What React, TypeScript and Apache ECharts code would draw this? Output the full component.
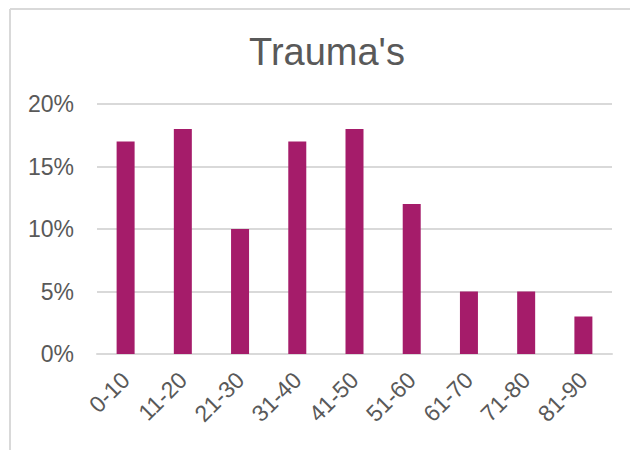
import React, { useEffect, useRef } from "react";
import * as echarts from "echarts";

const categories = ["0-10", "11-20", "21-30", "31-40", "41-50", "51-60", "61-70", "71-80", "81-90"];
const values = [17, 18, 10, 17, 18, 12, 5, 5, 3];
const yTicks = [0, 5, 10, 15, 20];
const titleText = "Trauma's";

export default function App() {
  const ref = useRef<HTMLDivElement>(null);
  useEffect(() => {
    if (!ref.current) return;
    const chart = echarts.init(ref.current, null, { renderer: "svg" });
    chart.setOption({
      animation: false,
      backgroundColor: "#ffffff",
      title: {
        text: titleText,
        left: 322,
        textAlign: "center",
        top: 28,
        textStyle: { fontFamily: "Liberation Sans, Arial", fontSize: 38, fontWeight: "normal", color: "#595959" },
      },
      graphic: [
        { type: "line", shape: { x1: 10, y1: 9, x2: 630, y2: 9 }, style: { stroke: "#D9D9D9", lineWidth: 2 } },
        { type: "line", shape: { x1: 10, y1: 9, x2: 10, y2: 450 }, style: { stroke: "#D9D9D9", lineWidth: 2 } },
      ],
      grid: { left: 97, right: 18, top: 104, bottom: 96, containLabel: false },
      xAxis: {
        type: "category",
        data: categories,
        axisLine: { show: true, lineStyle: { color: "#D9D9D9", width: 2 } },
        axisTick: { show: false },
        axisLabel: {
          rotate: 45,
          margin: 22,
          interval: 0,
          fontFamily: "Liberation Sans, Arial",
          fontSize: 23,
          color: "#595959",
        },
      },
      yAxis: {
        type: "value",
        min: yTicks[0],
        max: yTicks[yTicks.length - 1],
        interval: 5,
        axisLine: { show: false },
        axisTick: { show: false },
        splitLine: { lineStyle: { color: "#D9D9D9", width: 2 } },
        axisLabel: {
          margin: 23,
          formatter: (v: number) => v + "%",
          fontFamily: "Liberation Sans, Arial",
          fontSize: 23,
          color: "#595959",
        },
      },
      series: [
        {
          type: "bar",
          data: values,
          barWidth: 18,
          itemStyle: { color: "#A51C6A" },
        },
      ],
    });
    return () => chart.dispose();
  }, []);
  return <div ref={ref} style={{ position: "fixed", left: 0, top: 0, width: 630, height: 450 }} />;
}
